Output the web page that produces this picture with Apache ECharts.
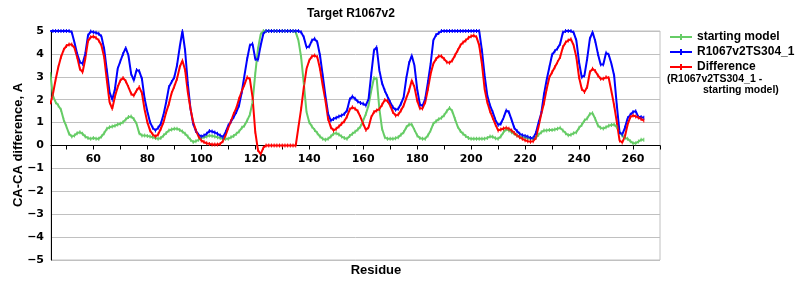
<!DOCTYPE html>
<html><head><meta charset="utf-8">
<script src="https://cdn.jsdelivr.net/npm/echarts@6/dist/echarts.min.js"></script>
<style>html,body{margin:0;padding:0;background:#fff}#c{width:800px;height:300px}</style>
</head><body><div id="c"></div>
<script>
var firstResidue = 44;
var startingModel = [
3.2,2.18,1.89,1.75,1.56,1.12,0.83,0.51,0.39,0.44,
0.54,0.58,0.51,0.39,0.33,0.29,0.33,0.3,0.3,0.39,
0.54,0.73,0.8,0.83,0.86,0.92,0.95,1.02,1.14,1.24,
1.27,1.16,0.95,0.54,0.44,0.44,0.42,0.39,0.36,0.33,
0.29,0.33,0.44,0.55,0.66,0.7,0.73,0.73,0.68,0.61,
0.51,0.39,0.25,0.15,0.19,0.25,0.33,0.36,0.39,0.44,
0.42,0.39,0.36,0.33,0.29,0.29,0.29,0.36,0.42,0.51,
0.61,0.77,0.87,1.09,1.35,1.89,3.13,4.22,4.85,5,
5,5,5,5,5,5,5,5,5,5,
5,4.95,4.59,3.86,2.69,1.46,1.02,0.83,0.68,0.54,
0.39,0.29,0.25,0.29,0.39,0.51,0.54,0.48,0.39,0.33,
0.29,0.42,0.51,0.6,0.7,0.83,1.09,1.38,1.75,2.4,
2.95,2.91,1.6,0.73,0.36,0.29,0.29,0.29,0.32,0.36,
0.47,0.58,0.8,0.92,0.92,0.68,0.44,0.33,0.29,0.3,
0.44,0.66,0.95,1.06,1.15,1.21,1.32,1.5,1.64,1.5,
1.16,0.83,0.63,0.51,0.41,0.33,0.29,0.29,0.29,0.29,
0.29,0.3,0.33,0.39,0.38,0.32,0.29,0.39,0.58,0.71,
0.66,0.58,0.51,0.44,0.39,0.36,0.35,0.32,0.29,0.29,
0.35,0.47,0.58,0.66,0.66,0.68,0.68,0.7,0.73,0.77,
0.66,0.54,0.45,0.47,0.54,0.58,0.77,0.9,1.09,1.18,
1.38,1.41,1.16,0.87,0.77,0.74,0.8,0.86,0.9,0.92,
0.8,0.58,0.44,0.33,0.29,0.19,0.1,0.1,0.17,0.25,
0.25];
var modelTS304 = [
5,5,5,5,5,5,5,5,4.95,4.5,
4.0,3.64,3.57,4.0,4.8,4.98,4.95,4.92,4.88,4.76,
4.22,3.28,2.33,2.0,2.47,3.35,3.68,4.0,4.26,3.93,
3.13,2.84,3.3,3.25,2.91,2.04,1.5,1.02,0.77,0.66,
0.77,0.95,1.35,1.9,2.55,2.77,2.98,3.5,4.3,5,
4.15,2.7,1.6,0.95,0.63,0.47,0.39,0.44,0.51,0.63,
0.61,0.57,0.51,0.44,0.36,0.58,0.87,1.05,1.24,1.46,
1.75,2.33,3.06,3.78,4.37,4.44,3.78,3.74,4.37,4.88,
5,5,5,5,5,5,5,5,5,5,
5,5,5,4.95,4.73,4.29,4.32,4.59,4.66,4.51,
3.93,3.06,2.18,1.38,1.09,1.16,1.21,1.27,1.31,1.38,
1.53,2.01,2.14,2.04,1.92,1.86,1.82,1.75,2.04,3.13,
4.15,4.29,3.28,2.72,2.4,2.14,1.89,1.67,1.56,1.6,
1.82,2.11,2.95,3.6,3.93,3.49,2.47,1.79,1.73,2.04,
2.77,3.57,4.59,4.83,4.91,5,5,5,5,5,
5,5,5,5,5,5,5,5,5,5,
4.15,3.06,2.18,1.75,1.46,1.12,0.9,0.95,1.21,1.53,
1.46,1.12,0.77,0.63,0.51,0.45,0.42,0.38,0.33,0.33,
0.55,1.0,1.41,2.23,2.87,3.42,3.96,4.12,4.24,4.44,
4.93,5,5,5,4.93,4.59,3.64,2.98,3.06,3.78,
4.66,4.95,4.56,4.0,3.54,3.54,4.05,3.96,3.57,3.06,
1.75,0.58,0.48,0.77,1.19,1.34,1.46,1.5,1.24,1.24,
1.21];
var difference = [
1.8,2.23,2.87,3.42,3.86,4.18,4.35,4.41,4.41,4.26,
3.86,3.35,3.2,3.78,4.56,4.73,4.76,4.7,4.59,4.37,
3.86,2.84,1.89,1.6,2.14,2.55,2.84,2.95,2.81,2.55,
2.26,2.18,2.4,2.55,2.29,1.56,1.02,0.66,0.48,0.39,
0.48,0.73,1.02,1.46,1.82,2.29,2.58,2.91,3.42,3.71,
3.3,2.33,1.6,1.02,0.66,0.39,0.22,0.15,0.1,0.07,
0.04,0.04,0.04,0.07,0.19,0.44,0.77,1.06,1.38,1.64,
2.04,2.37,2.66,2.98,2.9,2.1,0.6,-0.2,-0.38,-0.1,
0,0,0,0,0,0,0,0,0,0,
0,0,0.8,1.6,2.55,3.35,3.71,3.89,3.93,3.86,
3.35,2.62,1.97,1.16,0.8,0.66,0.73,0.83,0.95,1.06,
1.27,1.57,1.67,1.6,1.5,1.24,0.95,0.68,0.8,1.24,
1.46,1.53,1.59,1.78,1.99,1.94,1.75,1.46,1.31,1.35,
1.53,1.75,2.08,2.4,2.84,2.55,1.97,1.63,1.62,1.89,
2.47,3.13,3.57,3.78,3.9,3.9,3.78,3.64,3.61,3.71,
3.93,4.15,4.37,4.5,4.59,4.7,4.77,4.8,4.73,4.37,
3.57,2.47,1.89,1.5,1.21,0.92,0.66,0.7,0.74,0.77,
0.73,0.66,0.55,0.44,0.36,0.29,0.23,0.19,0.16,0.19,
0.33,0.83,1.38,1.85,2.47,2.98,3.2,3.42,3.64,3.86,
4.29,4.5,4.59,4.64,4.37,3.86,2.98,2.47,2.34,2.55,
3.2,3.35,3.25,3.06,2.91,2.91,2.98,2.95,2.37,1.75,
1.02,0.22,0.13,0.39,0.92,1.24,1.31,1.27,1.22,1.16,
1.09];
var xTickValues = [50,60,70,80,90,100,110,120,130,140,150,160,170,180,190,200,210,220,230,240,250,260,270];
var xLabelValues = [60,80,100,120,140,160,180,200,220,240,260];
var seriesNames = ['starting model','R1067v2TS304_1','Difference'];
var seriesColors = ['#66cc66','#0000ff','#ff0000'];

function pairs(arr){
  var out = [];
  for (var i = 0; i < arr.length; i++) out.push([firstResidue + i, arr[i]]);
  return out;
}
var allData = [startingModel, modelTS304, difference];
var series = allData.map(function(d, i){
  return {
    name: seriesNames[i], type: 'line', data: pairs(d),
    symbol: 'rect', symbolSize: [1, 4], showSymbol: true,
    lineStyle: {color: seriesColors[i], width: 2},
    itemStyle: {color: seriesColors[i]},
    emphasis: {disabled: true}, animation: false, clip: true
  };
});
var legendIcon = 'path://M0,3h22v2h-22z M10,1h2v6h-2z';

var chart = echarts.init(document.getElementById('c'), null, {renderer: 'canvas'});
var lblFont = {fontFamily: 'DejaVu Sans', fontWeight: 'bold', fontSize: 11, color: '#000'};
chart.setOption({
  animation: false,
  backgroundColor: '#fff',
  grid: {left: 51, top: 31, width: 609, height: 229, show: true, borderColor: '#c0c0c0', borderWidth: 1, containLabel: false},
  xAxis: {
    type: 'value', min: 44.3, max: 270, offset: -114.5,
    axisLine: {onZero: false, lineStyle: {color: '#000', width: 1}},
    axisTick: {show: true, length: 4, customValues: xTickValues, lineStyle: {color: '#000'}},
    axisLabel: Object.assign({customValues: xLabelValues, margin: 8}, lblFont),
    splitLine: {show: false}
  },
  yAxis: {
    type: 'value', min: -5, max: 5, interval: 1,
    axisLine: {show: true, onZero: false, lineStyle: {color: '#000', width: 1}},
    axisTick: {show: false},
    axisLabel: Object.assign({margin: 7, formatter: function(v){ return String(v).replace('-', '\u2212'); }}, lblFont),
    splitLine: {show: true, lineStyle: {color: '#c0c0c0', width: 1}}
  },
  legend: {
    data: seriesNames.map(function(n){ return {name: n, icon: legendIcon}; }),
    orient: 'vertical', left: 665, top: 26,
    itemWidth: 22, itemHeight: 8, itemGap: 3,
    textStyle: {fontFamily: 'Liberation Sans', fontWeight: 'bold', fontSize: 12, color: '#000'},
    selectedMode: false
  },
  graphic: [
    {type: 'text', x: 351, y: 14, style: {text: 'Target R1067v2', font: 'bold 12px "Liberation Sans"', fill: '#000', textAlign: 'center', textVerticalAlign: 'middle'}},
    {type: 'text', x: 376, y: 270, style: {text: 'Residue', font: 'bold 13px "Liberation Sans"', fill: '#000', textAlign: 'center', textVerticalAlign: 'middle'}},
    {type: 'text', x: 18, y: 145, rotation: Math.PI/2, style: {text: 'CA-CA difference, A', font: 'bold 13px "Liberation Sans"', fill: '#000', textAlign: 'center', textVerticalAlign: 'middle'}},
    {type: 'text', x: 667, y: 79, style: {text: '(R1067v2TS304_1 -', font: 'bold 10.5px "Liberation Sans"', fill: '#000', textVerticalAlign: 'middle'}},
    {type: 'text', x: 703, y: 90, style: {text: 'starting model)', font: 'bold 10.5px "Liberation Sans"', fill: '#000', textVerticalAlign: 'middle'}}
  ],
  series: series
});
</script></body></html>
